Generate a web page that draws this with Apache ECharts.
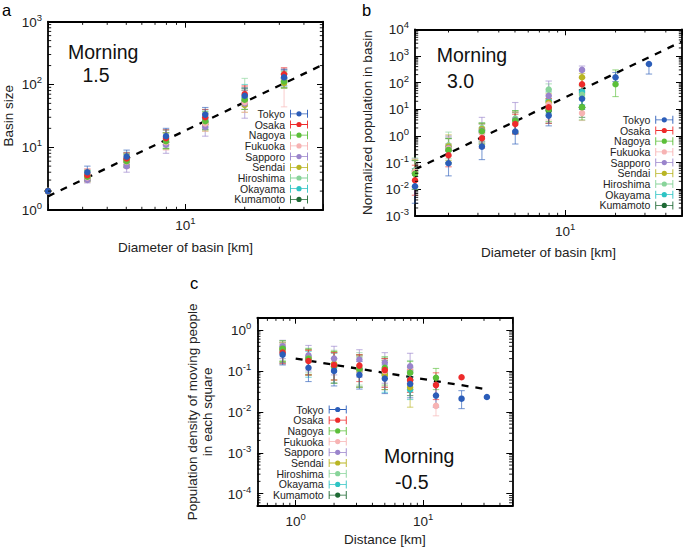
<!DOCTYPE html>
<html><head><meta charset="utf-8">
<script src="https://cdn.jsdelivr.net/npm/echarts@6/dist/echarts.min.js"></script>
<style>html,body{margin:0;padding:0;background:#fff}#c{width:685px;height:549px}</style>
</head><body><div id="c"></div><script>
const cities = ['Tokyo','Osaka','Nagoya','Fukuoka','Sapporo','Sendai','Hiroshima','Okayama','Kumamoto'];
const cityColors = ['#2b5db9','#ee2b2b','#5cbf3a','#f7b3b3','#9a84cc','#b9b524','#88d49a','#2ec4c4','#1f6a35'];

// ---------- Panel a: basin size vs diameter ----------
const aDiam = [2, 3.17, 5.02, 7.96, 12.6, 20, 31.7];
const aTokyo     = [2, 4,   7.1, 15,   33, 66, 130];
const aOsaka     = [2, 3.6, 6.6, 14,   30, 70, 145];
const aNagoya    = [2, 3.4, 6,   12.5, 26, 57, 112];
const aFukuoka   = [2, 3.3, 5.9, 12,   24, 52, 118];
const aSapporo   = [2, 3,   5,   11,   21, 50, 124];
const aSendai    = [2, 3.2, 6,   12,   23, 47, 106];
const aHiroshima = [2, 3.3, 6.2, 13,   26, 60, 118];
const aOkayama   = [2, 3.5, 6.5, 13.5, 28, 62, 124];
const aKumamoto  = [2, 3.3, 6,   12,   25, 55, 110];
const aTokyoErr     = [[2,2],[3.3,5],[5.6,9],[12,20],[26,43],[50,88],[108,175]];
const aOsakaErr     = [[2,2],[3,4.5],[5.3,8.2],[11,19],[23,40],[52,95],[115,185]];
const aNagoyaErr    = [[2,2],[2.9,4.2],[4.8,7.8],[9.5,17],[19,37],[40,88],[88,160]];
const aFukuokaErr   = [[2,2],[2.8,4],[4.6,7.8],[9,17],[18,35],[36,92],[44,178]];
const aSapporoErr   = [[2,2],[2.7,3.4],[4,6.5],[8,14.5],[15,29],[29,80],[95,170]];
const aSendaiErr    = [[2,2],[2.8,3.8],[5,7.5],[9.3,17],[18,34],[36,80],[88,150]];
const aHiroshimaErr = [[2,2],[2.9,4.3],[5,8],[10,18.5],[20,38],[40,125],[90,170]];
const aOkayamaErr   = [[2,2],[3,4.3],[5.2,8.3],[10.5,19],[21,40],[45,100],[95,170]];
const aKumamotoErr  = [[2,2],[2.9,4],[4.8,7.8],[9.5,17],[19,35],[40,85],[88,150]];
const aFitX = [2, 50];
const aFitY = [1.65, 207];

// ---------- Panel b: normalized population vs diameter ----------
const bDiam = [1.26, 2, 3.17, 5.02, 7.96, 12.6, 20, 31.7];
const bTokyo     = [0.013, 0.095, 0.4,  1.45, 5.8, 25,  158, 500];
const bOsaka     = [0.022, 0.19,  0.82, 2.8,  12,  87,  null, null];
const bNagoya    = [0.038, 0.3,   1.5,  3.8,  10,  12,  87, null];
const bFukuoka   = [0.045, 0.33,  1.3,  3.2,  15,  7.2, null, null];
const bSapporo   = [0.04,  0.35,  1.6,  4,    32,  300, null, null];
const bSendai    = [0.045, 0.4,   1.8,  3.6,  18,  160, null, null];
const bHiroshima = [0.05,  0.45,  2,    4.5,  55,  35,  null, null];
const bOkayama   = [0.05,  0.35,  1.6,  4,    20,  45,  null, null];
const bKumamoto  = [0.04,  0.3,   1.4,  3.5,  9,   12,  null, null];
const bTokyoErr     = [[0.003,0.06],[0.032,0.3],[0.13,1.3],[0.5,4.5],[2.4,12],[10,50],[110,240],[210,500]];
const bOsakaErr     = [[0.006,0.08],[0.07,0.5],[0.35,2],[1.2,6.5],[3,25],[40,150],null,null];
const bNagoyaErr    = [[0.01,0.12],[0.1,0.8],[0.5,3],[1.3,9],[3.5,25],[4,28],[30,300],null];
const bFukuokaErr   = [[0.012,0.14],[0.1,0.9],[0.5,2.8],[1.2,8],[4,35],[3.8,12],null,null];
const bSapporoErr   = [[0.01,0.12],[0.1,1],[0.6,5],[1.5,18],[9,115],[160,420],null,null];
const bSendaiErr    = [[0.012,0.13],[0.12,1.1],[0.6,3],[1.3,8],[6,40],[80,220],null,null];
const bHiroshimaErr = [[0.013,0.15],[0.14,1.4],[0.7,3.2],[1.6,9],[20,90],[12,70],null,null];
const bOkayamaErr   = [[0.013,0.14],[0.1,0.9],[0.6,3],[1.4,8.5],[7,45],[15,80],null,null];
const bKumamotoErr  = [[0.01,0.12],[0.09,0.8],[0.5,2.8],[1.2,7.5],[3,22],[5,25],null,null];
const bFitX = [1.26, 50];
const bFitY = [0.056, 3500];

// ---------- Panel c: density vs distance ----------
const cDist = [0.79, 1.26, 2, 3.16, 5, 7.9, 12.6, 20, 31.6];
const cTokyo     = [0.25, 0.12, 0.1,  0.08, 0.065, 0.048, 0.025, 0.021, 0.023];
const cOsaka     = [0.28, 0.175,0.14, 0.135,0.105, 0.06,  0.045, 0.07, null];
const cNagoya    = [0.35, 0.2,  0.13, 0.11, 0.12,  0.09,  0.068, null, null];
const cFukuoka   = [0.3,  0.2,  0.13, 0.1,  0.1,   0.05,  0.014, null, null];
const cSapporo   = [0.4,  0.24, 0.2,  0.19, 0.16,  0.13,  null, null, null];
const cSendai    = [0.35, 0.2,  0.15, 0.1,  0.08,  0.04,  null, null, null];
const cHiroshima = [0.38, 0.22, 0.15, 0.12, 0.11,  0.09,  null, null, null];
const cOkayama   = [0.3,  0.18, 0.12, 0.1,  0.08,  0.035, null, null, null];
const cKumamoto  = [0.32, 0.2,  0.13, 0.11, 0.09,  0.06,  null, null, null];
const cTokyoErr     = [[0.14,0.4],[0.055,0.22],[0.043,0.2],[0.036,0.17],[0.028,0.14],[0.022,0.1],[0.013,0.05],[0.012,0.033],null];
const cOsakaErr     = [[0.15,0.45],[0.08,0.32],[0.06,0.28],[0.055,0.25],[0.04,0.2],[0.03,0.11],[0.02,0.09],null,null];
const cNagoyaErr    = [[0.17,0.55],[0.08,0.35],[0.05,0.3],[0.04,0.25],[0.045,0.22],[0.035,0.17],[0.035,0.115],null,null];
const cFukuokaErr   = [[0.15,0.5],[0.08,0.32],[0.05,0.28],[0.04,0.24],[0.04,0.2],[0.03,0.1],[0.008,0.025],null,null];
const cSapporoErr   = [[0.2,0.56],[0.1,0.42],[0.08,0.4],[0.07,0.33],[0.05,0.28],[0.05,0.27],null,null,null];
const cSendaiErr    = [[0.17,0.5],[0.08,0.33],[0.06,0.3],[0.04,0.22],[0.035,0.18],[0.013,0.1],null,null,null];
const cHiroshimaErr = [[0.18,0.55],[0.09,0.36],[0.06,0.32],[0.045,0.28],[0.04,0.22],[0.03,0.18],null,null,null];
const cOkayamaErr   = [[0.15,0.48],[0.07,0.3],[0.05,0.27],[0.04,0.22],[0.03,0.18],[0.02,0.07],null,null,null];
const cKumamotoErr  = [[0.16,0.5],[0.08,0.33],[0.05,0.28],[0.04,0.24],[0.035,0.2],[0.025,0.12],null,null,null];
const cFitX = [1, 30];
const cFitY = [0.2, 0.0365];

const panelVals = [
  [aTokyo,aOsaka,aNagoya,aFukuoka,aSapporo,aSendai,aHiroshima,aOkayama,aKumamoto],
  [bTokyo,bOsaka,bNagoya,bFukuoka,bSapporo,bSendai,bHiroshima,bOkayama,bKumamoto],
  [cTokyo,cOsaka,cNagoya,cFukuoka,cSapporo,cSendai,cHiroshima,cOkayama,cKumamoto]
];
const panelErrs = [
  [aTokyoErr,aOsakaErr,aNagoyaErr,aFukuokaErr,aSapporoErr,aSendaiErr,aHiroshimaErr,aOkayamaErr,aKumamotoErr],
  [bTokyoErr,bOsakaErr,bNagoyaErr,bFukuokaErr,bSapporoErr,bSendaiErr,bHiroshimaErr,bOkayamaErr,bKumamotoErr],
  [cTokyoErr,cOsakaErr,cNagoyaErr,cFukuokaErr,cSapporoErr,cSendaiErr,cHiroshimaErr,cOkayamaErr,cKumamotoErr]
];
const panelX = [aDiam, bDiam, cDist];
const panelFit = [[aFitX,aFitY],[bFitX,bFitY],[cFitX,cFitY]];
const xRanges = [[2,50],[1.26,50],[0.5,50]];
const yRanges = [[1,1000],[0.001,10000],[5e-5,2]];

const FONT = '"Liberation Sans", Arial, Helvetica, sans-serif';
const TXT = '#222';

function logLabel(v){
  const e = Math.log10(v); const r = Math.round(e);
  if (Math.abs(e - r) > 1e-6) return '';
  return '{b|10}{s|' + r + '}';
}
const rich = {
  b:{fontSize:13.5,fontFamily:FONT,color:TXT,verticalAlign:'bottom',lineHeight:15},
  s:{fontSize:9.5,fontFamily:FONT,color:TXT,verticalAlign:'bottom',lineHeight:10,padding:[0,0,7,0]}
};
const lineSt = {color:'#000',width:1.8};

const grids = [
  {left:45.7, top:21.7, right:685-323, bottom:549-210},
  {left:415, top:29.3, right:685-682.7, bottom:549-216},
  {left:257.3, top:317.7, right:685-512.3, bottom:549-506}
];
const xNames = ['Diameter of basin [km]','Diameter of basin [km]','Distance [km]'];
const yNames = ['Basin size','Normalized population in basin','Population density of moving people\nin each square'];
const xNameGaps = [30, 29, 26];
const yNameGaps = [32, 40, 42];

const xAxes = [], yAxes = [];
for (let p=0;p<3;p++){
  const common = {type:'log',logBase:10,gridIndex:p,splitLine:{show:false},
    axisLine:{show:true,onZero:false,lineStyle:lineSt},
    axisTick:{show:true,inside:true,length:6,lineStyle:{color:'#000',width:1}}};
  xAxes.push(Object.assign({}, common, {min:xRanges[p][0],max:xRanges[p][1],position:'bottom',
    axisLabel:{formatter:logLabel,rich:rich,margin:7},
    name:xNames[p],nameLocation:'middle',nameGap:xNameGaps[p],
    nameTextStyle:{fontSize:13.5,fontFamily:FONT,color:TXT}}));
  xAxes.push(Object.assign({}, common, {min:xRanges[p][0],max:xRanges[p][1],position:'top',axisLabel:{show:false}}));
  yAxes.push(Object.assign({}, common, {min:yRanges[p][0],max:yRanges[p][1],position:'left',
    axisLabel:{formatter:logLabel,rich:rich,margin:6},
    name:yNames[p],nameLocation:'middle',nameGap:yNameGaps[p],nameRotate:90,
    nameTextStyle:{fontSize:13.5,fontFamily:FONT,color:TXT,lineHeight:15}}));
  yAxes.push(Object.assign({}, common, {min:yRanges[p][0],max:yRanges[p][1],position:'right',axisLabel:{show:false}}));
}

function minorVals(min,max){
  const out=[];
  for(let e=-6;e<=5;e++) for(let m=2;m<=9;m++){const v=m*Math.pow(10,e); if(v>min*1.0001 && v<max*0.9999) out.push(v);}
  return out;
}
function errRender(params, api){
  const x=api.value(0), lo=api.value(1), hi=api.value(2);
  const p1=api.coord([x,lo]), p2=api.coord([x,hi]);
  const w=3.2;
  const st={stroke:api.visual('color'),lineWidth:1.1,opacity:0.6};
  return {type:'group',children:[
    {type:'line',shape:{x1:p1[0],y1:p1[1],x2:p2[0],y2:p2[1]},style:st},
    {type:'line',shape:{x1:p1[0]-w,y1:p1[1],x2:p1[0]+w,y2:p1[1]},style:st},
    {type:'line',shape:{x1:p2[0]-w,y1:p2[1],x2:p2[0]+w,y2:p2[1]},style:st}
  ]};
}
function xTickRender(params, api){
  const p=api.coord([api.value(0),api.value(1)]); const cs=params.coordSys; const L=3.2;
  const st={stroke:'#000',lineWidth:0.9};
  return {type:'group',children:[
    {type:'line',shape:{x1:p[0],y1:cs.y+cs.height,x2:p[0],y2:cs.y+cs.height-L},style:st},
    {type:'line',shape:{x1:p[0],y1:cs.y,x2:p[0],y2:cs.y+L},style:st}]};
}
function yTickRender(params, api){
  const p=api.coord([api.value(0),api.value(1)]); const cs=params.coordSys; const L=3.2;
  const st={stroke:'#000',lineWidth:0.9};
  return {type:'group',children:[
    {type:'line',shape:{x1:cs.x,y1:p[1],x2:cs.x+L,y2:p[1]},style:st},
    {type:'line',shape:{x1:cs.x+cs.width,y1:p[1],x2:cs.x+cs.width-L,y2:p[1]},style:st}]};
}

const series=[];
for(let p=0;p<3;p++){
  const xi=2*p;
  series.push({type:'custom',xAxisIndex:xi,yAxisIndex:xi,silent:true,clip:false,z:5,
    renderItem:xTickRender,encode:{x:0,y:1},
    data:minorVals(xRanges[p][0],xRanges[p][1]).map(v=>[v,yRanges[p][0]])});
  series.push({type:'custom',xAxisIndex:xi,yAxisIndex:xi,silent:true,clip:false,z:5,
    renderItem:yTickRender,encode:{x:0,y:1},
    data:minorVals(yRanges[p][0],yRanges[p][1]).map(v=>[xRanges[p][0],v])});
  const fx=panelFit[p][0], fy=panelFit[p][1];
  series.push({type:'line',xAxisIndex:xi,yAxisIndex:xi,silent:true,symbol:'none',z:1,
    lineStyle:{color:'#000',width:2.3,type:[7,7]},data:fx.map((x,i)=>[x,fy[i]])});
  for(let c=cities.length-1;c>=0;c--){
    const xs=panelX[p], vals=panelVals[p][c], errs=panelErrs[p][c];
    const ed=[], sd=[];
    xs.forEach((x,i)=>{
      if(vals[i]!=null) sd.push([x,vals[i]]);
      if(errs[i]!=null) ed.push([x,errs[i][0],errs[i][1]]);
    });
    series.push({type:'custom',name:cities[c],xAxisIndex:xi,yAxisIndex:xi,silent:true,z:2,
      itemStyle:{color:cityColors[c]},renderItem:errRender,encode:{x:0,y:[1,2]},data:ed});
    series.push({type:'scatter',name:cities[c],xAxisIndex:xi,yAxisIndex:xi,silent:true,z:3,
      symbol:'circle',symbolSize:6.5,itemStyle:{color:cityColors[c],opacity:1},data:sd});
  }
}

const legendIcon='path://M0,0H0.9V8H0Z M17.1,0H18V8H17.1Z M0,3.6H18V4.4H0Z M6.4,4A2.6,2.6 0 1 1 11.6,4A2.6,2.6 0 1 1 6.4,4Z';
function mkLegend(right, top){
  return {orient:'vertical',align:'right',right:right,top:top,padding:0,itemGap:-0.3,
    itemWidth:18,itemHeight:8,selectedMode:false,
    itemStyle:{borderWidth:0},
    textStyle:{fontSize:10.5,fontFamily:FONT,color:TXT,lineHeight:10,padding:[0,0,0,0]},
    data:cities.map(n=>({name:n,icon:legendIcon}))};
}
const legends=[mkLegend(685-308,108.3), mkLegend(685-673.3,114.3), mkLegend(685-346.7,404)];

const big = {fontSize:19.5,fontFamily:FONT,fill:'#111'};
// y = vertical middle of the text line
function txt(t,x,y,font){return {type:'text',x:x,y:y,silent:true,style:Object.assign({text:t,verticalAlign:'middle',align:'left'},font)};}
const letterFont={fontSize:16.5,fontFamily:FONT,fill:'#000'};
const graphics=[
  txt('a',2,9.5,letterFont), txt('b',362,9.5,letterFont), txt('c',190,283,letterFont),
  txt('Morning',68,51.5,big), txt('1.5',82.5,75,big),
  txt('Morning',436.7,55,big), txt('3.0',447,80.5,big),
  txt('Morning',384,455.5,big), txt('-0.5',395,481.5,big)
];

const chart=echarts.init(document.getElementById('c'),null,{renderer:'svg'});
chart.setOption({
  animation:false,
  backgroundColor:'#fff',
  grid:grids.map(g=>Object.assign({containLabel:false},g)),
  xAxis:xAxes, yAxis:yAxes,
  legend:legends,
  graphic:graphics,
  series:series
});
</script></body></html>
